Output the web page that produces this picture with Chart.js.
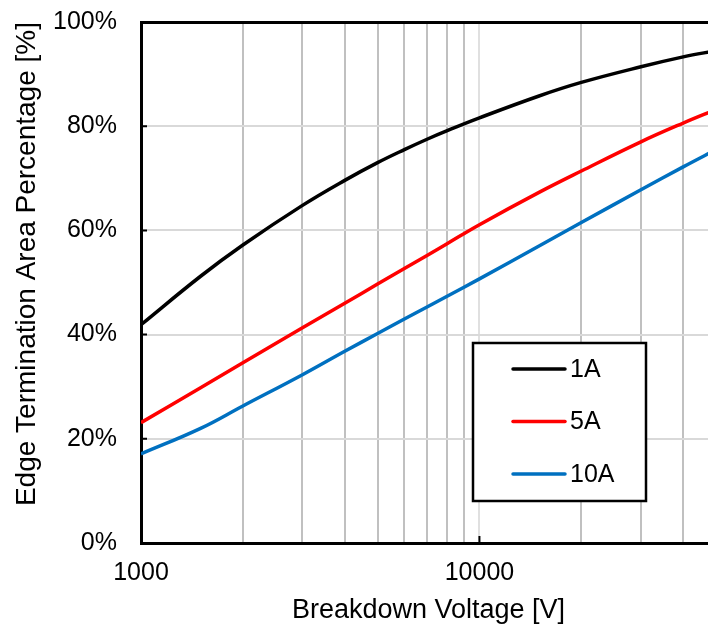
<!DOCTYPE html>
<html lang="en">
<head>
    <meta charset="UTF-8">
    <title>Edge Termination Area Percentage</title>
    <script src="https://cdn.jsdelivr.net/npm/chart.js@4.4.1/dist/chart.umd.min.js"></script>
    <style>
        html, body { margin: 0; padding: 0; background: #fff; overflow: hidden; }
        .chart-box { width: 740px; height: 627px; position: relative; }
    </style>
</head>
<body>
    <div class="chart-box">
        <canvas id="etaChart"></canvas>
    </div>

    <script>
        // Data
        const voltage = [1000, 1500, 2000, 3000, 4000, 5000, 6000, 7000, 8000, 10000, 15000, 20000, 30000, 40000, 50000];
        const area1A  = [41.9, 51.2, 57.2, 64.8, 69.6, 73.0, 75.5, 77.5, 79.1, 81.6, 85.8, 88.4, 91.4, 93.3, 94.5];
        const area5A  = [23.1, 29.8, 34.6, 41.3, 46.0, 49.7, 52.7, 55.2, 57.4, 61.1, 67.3, 71.4, 77.0, 80.6, 83.2];
        const area10A = [17.1, 22.0, 26.3, 32.3, 36.8, 40.2, 43.0, 45.3, 47.3, 50.7, 57.0, 61.5, 67.8, 72.2, 75.5];

        const xTicks = [1000, 2000, 3000, 4000, 5000, 6000, 7000, 8000, 9000,
                        10000, 20000, 30000, 40000, 50000];
        const xLabels = [1000, 10000];
        const yTicks = [0, 20, 40, 60, 80, 100];

        const FONT = 'Liberation Sans, Arial, sans-serif';

        function series(values) {
            return values.map((v, i) => ({ x: voltage[i], y: v }));
        }

        // legend box drawn inside the plot, plus inward tick marks
        const extras = {
            id: 'extras',
            afterDraw(chart) {
                const ctx = chart.ctx;
                const xs = chart.scales.x, ys = chart.scales.y;
                ctx.save();
                ctx.strokeStyle = '#000';
                ctx.lineWidth = 2;
                ctx.beginPath();
                [20, 40, 60, 80].forEach(v => {
                    const py = ys.getPixelForValue(v);
                    ctx.moveTo(xs.left, py);
                    ctx.lineTo(xs.left + 6, py);
                });
                const px = xs.getPixelForValue(10000);
                ctx.moveTo(px, ys.bottom);
                ctx.lineTo(px, ys.bottom - 7);
                ctx.stroke();

                // legend
                const bx = 473, by = 343, bw = 173, bh = 158;
                ctx.fillStyle = '#fff';
                ctx.fillRect(bx, by, bw, bh);
                ctx.lineWidth = 2.5;
                ctx.strokeRect(bx, by, bw, bh);
                ctx.font = '25px ' + FONT;
                ctx.textBaseline = 'middle';
                chart.data.datasets.forEach((ds, i) => {
                    const ly = 369 + i * 52.5;
                    ctx.strokeStyle = ds.borderColor;
                    ctx.lineWidth = 3.5;
                    ctx.lineCap = 'round';
                    ctx.beginPath();
                    ctx.moveTo(513, ly);
                    ctx.lineTo(565, ly);
                    ctx.stroke();
                    ctx.fillStyle = '#000';
                    ctx.fillText(ds.label, 570, ly + 1);
                });
                ctx.restore();
            }
        };

        const ctx = document.getElementById('etaChart').getContext('2d');
        new Chart(ctx, {
            type: 'line',
            data: {
                datasets: [
                    { label: '1A',  data: series(area1A),  borderColor: '#000000' },
                    { label: '5A',  data: series(area5A),  borderColor: '#ff0000' },
                    { label: '10A', data: series(area10A), borderColor: '#0070c0' }
                ]
            },
            options: {
                responsive: true,
                maintainAspectRatio: false,
                animation: false,
                layout: { autoPadding: false, padding: { top: 22, right: 24, left: 0, bottom: 0 } },
                elements: {
                    line: { borderWidth: 3.5, tension: 0.4, fill: false },
                    point: { radius: 0 }
                },
                plugins: {
                    legend: { display: false },
                    tooltip: { enabled: false }
                },
                scales: {
                    x: {
                        type: 'logarithmic',
                        min: 1000,
                        max: 50000,
                        afterBuildTicks(scale) {
                            scale.ticks = xTicks.map(v => ({ value: v }));
                        },
                        afterFit(scale) {
                            scale.height = 84;
                            scale.paddingLeft = 0;
                            scale.paddingRight = 0;
                        },
                        border: { color: '#000', width: 3 },
                        grid: {
                            drawTicks: false,
                            lineWidth: 2,
                            color: c => xLabels.includes(c.tick.value) ? '#e0e0e0' : '#c0c0c0'
                        },
                        ticks: {
                            autoSkip: false,
                            maxRotation: 0,
                            padding: 15,
                            color: '#000',
                            font: { family: FONT, size: 25 },
                            callback: v => xLabels.includes(v) ? String(v) : ''
                        },
                        title: {
                            display: true,
                            text: 'Breakdown Voltage [V]',
                            color: '#000',
                            font: { family: FONT, size: 27 },
                            padding: { top: 4, bottom: 0 }
                        }
                    },
                    y: {
                        min: 0,
                        max: 100,
                        afterBuildTicks(scale) {
                            scale.ticks = yTicks.map(v => ({ value: v }));
                        },
                        afterFit(scale) {
                            scale.width = 141;
                            scale.paddingTop = 0;
                            scale.paddingBottom = 0;
                        },
                        border: { color: '#000', width: 3 },
                        grid: {
                            drawTicks: false,
                            lineWidth: c => c.tick.value === 100 ? 3 : 2,
                            color: c => c.tick.value === 100 ? '#000' : (c.tick.value === 0 ? 'rgba(0,0,0,0)' : '#d9d9d9')
                        },
                        ticks: {
                            padding: 24,
                            color: '#000',
                            font: { family: FONT, size: 25 },
                            callback: v => v + '%'
                        },
                        title: {
                            display: true,
                            text: 'Edge Termination Area Percentage [%]',
                            align: 'end',
                            color: '#000',
                            font: { family: FONT, size: 28 },
                            padding: { top: 10, bottom: 0 }
                        }
                    }
                }
            },
            plugins: [extras]
        });
    </script>
</body>
</html>
